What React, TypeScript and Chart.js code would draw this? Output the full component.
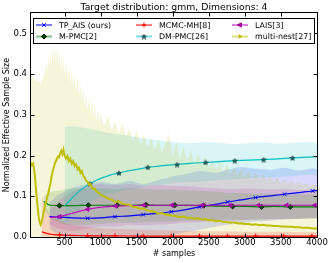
import React, { useEffect, useRef } from "react";
import { Chart, registerables } from "chart.js";
import { drawPoint } from "chart.js/helpers";

Chart.register(...registerables);

// ---------- text ----------
const chartTitle = "Target distribution: gmm, Dimensions: 4";
const xLabel = "# samples";
const yLabel = "Normalized Effective Sample Size";

// ---------- axes ----------
const xTicks = [500, 1000, 1500, 2000, 2500, 3000, 3500, 4000];
const yTicks = [0, 0.1, 0.2, 0.3, 0.4, 0.5];
const xMin = 35;
const xMax = 4000;
const yMin = 0;
const yMax = 0.55;

// ---------- TP_AIS (ours) ----------
const tpMean = [[290,0.050],[430,0.049],[600,0.047],[820,0.046],[1000,0.047],[1200,0.050],[1400,0.052],[1590,0.055],[1800,0.058],[1980,0.062],[2200,0.068],[2370,0.074],[2600,0.080],[2760,0.086],[2950,0.091],[3150,0.097],[3350,0.101],[3550,0.105],[3750,0.109],[3940,0.113],[4000,0.114]];
const tpLow = [[290,0.020],[430,0.005],[600,0.0],[820,0.0],[1000,0.0],[1200,0.0],[1400,0.0],[1590,0.0],[1800,0.0],[1980,0.005],[2200,0.012],[2370,0.018],[2600,0.025],[2760,0.030],[2950,0.034],[3150,0.038],[3350,0.040],[3550,0.043],[3750,0.045],[3940,0.047],[4000,0.048]];
const tpHigh = [[290,0.085],[430,0.105],[600,0.120],[820,0.130],[1000,0.135],[1200,0.130],[1400,0.138],[1590,0.130],[1800,0.140],[1980,0.148],[2200,0.155],[2370,0.162],[2600,0.158],[2760,0.165],[2950,0.172],[3150,0.168],[3350,0.165],[3550,0.170],[3750,0.163],[3940,0.168],[4000,0.166]];
const tpMarks = [430, 820, 1200, 1590, 1980, 2370, 2760, 3150, 3550, 3940];

// ---------- MCMC-MH[8] ----------
const mhMean = [[185,0.013],[230,0.010],[300,0.007],[430,0.005],[600,0.004],[820,0.003],[1000,0.003],[1200,0.003],[1590,0.002],[1980,0.002],[2370,0.002],[2760,0.002],[3150,0.002],[3540,0.002],[3930,0.002],[4000,0.002]];
const mhHigh = [[185,0.100],[230,0.080],[300,0.055],[430,0.040],[600,0.030],[820,0.025],[1000,0.022],[1200,0.020],[1590,0.018],[1980,0.016],[2370,0.015],[2760,0.014],[3150,0.013],[3540,0.013],[3930,0.012],[4000,0.012]];
const mhMarks = [430, 820, 1200, 1590, 1980, 2370, 2760, 3150, 3540, 3930];

// ---------- LAIS[3] ----------
const laisMean = [[300,0.048],[430,0.050],[600,0.058],[820,0.068],[1000,0.073],[1210,0.076],[1400,0.077],[1600,0.078],[1800,0.078],[1990,0.078],[2200,0.078],[2410,0.078],[2600,0.078],[2800,0.078],[3000,0.078],[3190,0.078],[3400,0.078],[3580,0.078],[3800,0.078],[3970,0.078],[4000,0.078]];
const laisLow = [[300,0.030],[430,0.020],[600,0.015],[820,0.020],[1000,0.025],[1210,0.025],[1400,0.030],[1600,0.028],[1800,0.030],[1990,0.032],[2200,0.035],[2410,0.037],[2600,0.040],[2800,0.040],[3000,0.042],[3190,0.043],[3400,0.044],[3580,0.045],[3800,0.045],[3970,0.046],[4000,0.046]];
const laisHigh = [[300,0.070],[430,0.090],[600,0.110],[820,0.125],[1000,0.130],[1210,0.128],[1400,0.130],[1600,0.125],[1800,0.128],[1990,0.125],[2200,0.125],[2410,0.122],[2600,0.120],[2800,0.118],[3000,0.120],[3190,0.118],[3400,0.117],[3580,0.118],[3800,0.116],[3970,0.117],[4000,0.117]];
const laisMarks = [430, 820, 1210, 1600, 1990, 2410, 2800, 3190, 3580, 3970];

// ---------- M-PMC[2] ----------
const mpmcMean = [[210,0.087],[300,0.078],[430,0.077],[600,0.077],[830,0.078],[1000,0.078],[1230,0.078],[1400,0.078],[1630,0.079],[1800,0.078],[2030,0.078],[2200,0.078],[2430,0.077],[2600,0.076],[2830,0.075],[3000,0.075],[3230,0.074],[3400,0.075],[3630,0.074],[3800,0.074],[4000,0.074]];
const mpmcLow = [[210,0.070],[300,0.050],[430,0.035],[600,0.030],[830,0.030],[1000,0.032],[1230,0.035],[1400,0.035],[1630,0.036],[1800,0.037],[2030,0.038],[2200,0.040],[2430,0.040],[2600,0.041],[2830,0.042],[3000,0.042],[3230,0.043],[3400,0.044],[3630,0.044],[3800,0.045],[4000,0.045]];
const mpmcHigh = [[210,0.100],[300,0.110],[430,0.115],[600,0.120],[830,0.120],[1000,0.120],[1230,0.118],[1400,0.120],[1630,0.118],[1800,0.117],[2030,0.116],[2200,0.115],[2430,0.113],[2600,0.111],[2830,0.108],[3000,0.108],[3230,0.106],[3400,0.106],[3630,0.105],[3800,0.105],[4000,0.104]];
const mpmcMarks = [430, 830, 1230, 1630, 2030, 2430, 2830, 3230, 3630];

// ---------- DM-PMC[26] ----------
const dmMean = [[500,0.077],[550,0.085],[600,0.095],[700,0.112],[760,0.120],[855,0.131],[950,0.140],[1050,0.147],[1150,0.153],[1255,0.157],[1400,0.163],[1500,0.166],[1655,0.171],[1800,0.174],[1900,0.176],[2060,0.178],[2250,0.181],[2455,0.183],[2650,0.185],[2860,0.1875],[3050,0.189],[3260,0.190],[3450,0.192],[3660,0.194],[3850,0.196],[4000,0.197]];
const dmLow = [[500,0.030],[550,0.040],[600,0.050],[700,0.065],[760,0.075],[855,0.085],[950,0.095],[1050,0.100],[1150,0.108],[1255,0.112],[1400,0.118],[1500,0.120],[1655,0.125],[1800,0.128],[1900,0.130],[2060,0.133],[2250,0.135],[2455,0.137],[2650,0.140],[2860,0.142],[3050,0.144],[3260,0.146],[3450,0.148],[3660,0.150],[3850,0.152],[4000,0.153]];
const dmHigh = [[500,0.270],[550,0.272],[600,0.272],[700,0.270],[760,0.268],[855,0.265],[950,0.262],[1050,0.258],[1150,0.255],[1255,0.252],[1400,0.248],[1500,0.245],[1655,0.240],[1800,0.238],[1900,0.235],[2060,0.232],[2250,0.230],[2455,0.233],[2650,0.231],[2860,0.228],[3050,0.230],[3260,0.232],[3450,0.229],[3660,0.231],[3850,0.233],[4000,0.232]];
const dmMarks = [855, 1255, 1655, 2060, 2455, 2860, 3260, 3660];

// ---------- multi-nest[27] ----------
const mnMean = [[35,0.182],[50,0.176],[65,0.180],[80,0.165],[95,0.138],[110,0.105],[125,0.078],[140,0.052],[155,0.036],[170,0.030],[185,0.038],[200,0.052],[215,0.065],[230,0.078],[245,0.086],[260,0.098],[275,0.108],[290,0.120],[305,0.132],[320,0.148],[335,0.160],[350,0.170],[365,0.180],[380,0.186],[395,0.192],[410,0.198],[425,0.196],[440,0.206],[455,0.212],[470,0.204],[485,0.214],[500,0.200],[520,0.193],[540,0.199],[560,0.186],[580,0.192],[600,0.180],[620,0.186],[640,0.174],[660,0.178],[680,0.166],[700,0.170],[720,0.158],[740,0.162],[760,0.150],[780,0.146],[800,0.138],[820,0.136],[840,0.128],[860,0.130],[880,0.121],[900,0.118],[920,0.120],[940,0.112],[960,0.110],[980,0.108],[1000,0.104],[1050,0.100],[1100,0.094],[1150,0.092],[1200,0.086],[1250,0.088],[1300,0.082],[1350,0.080],[1400,0.079],[1450,0.074],[1500,0.073],[1550,0.069],[1600,0.070],[1650,0.065],[1700,0.064],[1750,0.062],[1800,0.058],[1850,0.059],[1900,0.055],[1950,0.054],[2000,0.052],[2050,0.051],[2100,0.049],[2150,0.050],[2200,0.047],[2250,0.047],[2300,0.045],[2350,0.046],[2400,0.043],[2450,0.044],[2500,0.041],[2550,0.041],[2600,0.039],[2650,0.040],[2700,0.037],[2750,0.037],[2800,0.035],[2850,0.036],[2900,0.033],[2950,0.034],[3000,0.032],[3050,0.032],[3100,0.030],[3150,0.031],[3200,0.029],[3250,0.030],[3300,0.028],[3350,0.028],[3400,0.027],[3450,0.027],[3500,0.026],[3550,0.026],[3600,0.025],[3650,0.025],[3700,0.024],[3750,0.024],[3800,0.023],[3850,0.023],[3900,0.022],[3950,0.021],[4000,0.021]];
const mnHigh = [[35,0.400],[50,0.392],[65,0.398],[80,0.385],[95,0.392],[110,0.380],[125,0.388],[140,0.376],[155,0.385],[170,0.372],[185,0.390],[200,0.380],[215,0.410],[230,0.395],[245,0.432],[260,0.405],[275,0.445],[290,0.415],[305,0.455],[320,0.420],[335,0.462],[350,0.430],[365,0.475],[380,0.428],[395,0.468],[410,0.420],[425,0.458],[440,0.410],[455,0.450],[470,0.400],[485,0.445],[500,0.395],[520,0.432],[540,0.385],[560,0.420],[580,0.375],[600,0.410],[620,0.365],[640,0.400],[660,0.355],[680,0.390],[700,0.345],[720,0.378],[740,0.335],[760,0.365],[780,0.322],[800,0.355],[820,0.312],[840,0.345],[860,0.305],[880,0.335],[900,0.295],[920,0.325],[940,0.288],[960,0.315],[980,0.280],[1000,0.305],[1050,0.272],[1100,0.298],[1150,0.262],[1200,0.285],[1250,0.252],[1300,0.278],[1350,0.245],[1400,0.268],[1450,0.235],[1500,0.262],[1550,0.228],[1600,0.252],[1650,0.220],[1700,0.245],[1750,0.212],[1800,0.238],[1850,0.205],[1900,0.232],[1950,0.255],[2000,0.198],[2050,0.235],[2100,0.192],[2150,0.222],[2200,0.186],[2250,0.212],[2300,0.180],[2350,0.205],[2400,0.175],[2450,0.198],[2500,0.170],[2550,0.190],[2600,0.165],[2650,0.184],[2700,0.160],[2750,0.178],[2800,0.155],[2850,0.172],[2900,0.152],[2950,0.166],[3000,0.148],[3050,0.162],[3100,0.145],[3150,0.158],[3200,0.142],[3250,0.154],[3300,0.139],[3350,0.150],[3400,0.136],[3450,0.146],[3500,0.133],[3550,0.142],[3600,0.131],[3650,0.139],[3700,0.129],[3750,0.136],[3800,0.127],[3850,0.133],[3900,0.125],[3950,0.130],[4000,0.124]];

// ---------- styling ----------
const FONT = '"DejaVu Sans", "Liberation Sans", sans-serif';
const C = {
  blue: "#0000ff",
  red: "#ff0000",
  magenta: "#bf00bf",
  green: "#008000",
  cyan: "#00bfbf",
  yellow: "#bfbf00",
};
const rgba = (hex: string, a: number) => {
  const n = parseInt(hex.slice(1), 16);
  return `rgba(${(n >> 16) & 255},${(n >> 8) & 255},${n & 255},${a})`;
};
const BAND_ALPHA = 0.15;

function makeStar(size: number, fill: string, stroke: string) {
  const c = document.createElement("canvas");
  c.width = size;
  c.height = size;
  const g = c.getContext("2d")!;
  const cx = size / 2, cy = size / 2 + 0.3, R = size / 2 - 0.5, r = R * 0.45;
  g.beginPath();
  for (let i = 0; i < 10; i++) {
    const a = -Math.PI / 2 + (i * Math.PI) / 5;
    const rad = i % 2 === 0 ? R : r;
    const px = cx + rad * Math.cos(a), py = cy + rad * Math.sin(a);
    if (i === 0) g.moveTo(px, py); else g.lineTo(px, py);
  }
  g.closePath();
  g.fillStyle = fill;
  g.fill();
  g.strokeStyle = stroke;
  g.lineWidth = 0.6;
  g.stroke();
  return c;
}

const toXY = (arr: number[][]) => arr.map(([x, y]) => ({ x, y }));

export default function App() {
  const ref = useRef<HTMLCanvasElement | null>(null);

  useEffect(() => {
    document.body.style.margin = "0";
    const canvas = ref.current;
    if (!canvas) return;

    const star = makeStar(6, "#136f6f", "#0a2a2a");

    const markerR = (marks: number[], r: number) => (ctx: any) =>
      ctx.raw && marks.includes(ctx.raw.x) ? r : 0;

    const band = (low: number[][] | null, high: number[][], color: string, order: number, smooth: boolean) => {
      const ds: any[] = [];
      const interp = smooth ? { cubicInterpolationMode: "monotone" } : { tension: 0 };
      if (low) {
        ds.push({
          data: toXY(low), borderWidth: 0, pointRadius: 0, fill: false, order,
          borderColor: "transparent", ...interp,
        });
        ds.push({
          data: toXY(high), borderWidth: 0, pointRadius: 0, order,
          fill: "-1", backgroundColor: rgba(color, BAND_ALPHA), borderColor: "transparent",
          ...interp,
        });
      } else {
        ds.push({
          data: toXY(high), borderWidth: 0, pointRadius: 0, order,
          fill: "origin", backgroundColor: rgba(color, BAND_ALPHA), borderColor: "transparent",
          ...interp,
        });
      }
      return ds;
    };

    const datasets: any[] = [
      ...band(tpLow, tpHigh, C.blue, 20, true),
      ...band(null, mhHigh, C.red, 19, true),
      ...band(laisLow, laisHigh, C.magenta, 18, true),
      ...band(mpmcLow, mpmcHigh, C.green, 17, true),
      ...band(dmLow, dmHigh, C.cyan, 16, true),
      ...band(null, mnHigh, C.yellow, 15, false),
      {
        data: toXY(tpMean), borderColor: C.blue, borderWidth: 1.2, fill: false, order: 6,
        cubicInterpolationMode: "monotone", pointStyle: "crossRot",
        pointRadius: markerR(tpMarks, 2.6), pointBorderColor: C.blue, pointBorderWidth: 1,
      },
      {
        data: toXY(mpmcMean), borderColor: C.green, borderWidth: 1.2, fill: false, order: 5,
        cubicInterpolationMode: "monotone", pointStyle: "rectRot",
        pointRadius: markerR(mpmcMarks, 2.6), pointBackgroundColor: "#005000",
        pointBorderColor: "#000000", pointBorderWidth: 0.7,
      },
      {
        data: toXY(mhMean), borderColor: C.red, borderWidth: 1.2, fill: false, order: 4,
        cubicInterpolationMode: "monotone", pointStyle: "cross",
        pointRadius: markerR(mhMarks, 2.6), pointBorderColor: C.red, pointBorderWidth: 1,
      },
      {
        data: toXY(dmMean), borderColor: C.cyan, borderWidth: 1.2, fill: false, order: 3,
        cubicInterpolationMode: "monotone", pointStyle: star,
        pointRadius: markerR(dmMarks, 3),
      },
      {
        data: toXY(laisMean), borderColor: C.magenta, borderWidth: 1.2, fill: false, order: 2,
        cubicInterpolationMode: "monotone", pointStyle: "triangle", pointRotation: -90,
        pointRadius: markerR(laisMarks, 2.6), pointBackgroundColor: C.magenta,
        pointBorderColor: "#8f008f", pointBorderWidth: 0.6,
      },
      {
        data: toXY(mnMean), borderColor: C.yellow, borderWidth: 2, fill: false, order: 1,
        tension: 0, pointRadius: 0,
      },
    ];

    const legendItems = [
      { label: "TP_AIS (ours)", color: C.blue, style: "crossRot", r: 2.5, fill: C.blue, stroke: C.blue, rot: 0 },
      { label: "MCMC-MH[8]", color: C.red, style: "cross", r: 2.5, fill: C.red, stroke: C.red, rot: 0 },
      { label: "LAIS[3]", color: C.magenta, style: "triangle", r: 2.5, fill: C.magenta, stroke: "#8f008f", rot: -90 },
      { label: "M-PMC[2]", color: C.green, style: "rectRot", r: 2.5, fill: "#005000", stroke: "#000000", rot: 0 },
      { label: "DM-PMC[26]", color: C.cyan, style: "star", r: 3, fill: "", stroke: "", rot: 0 },
      { label: "multi-nest[27]", color: C.yellow, style: "triangle", r: 2, fill: C.yellow, stroke: C.yellow, rot: 90 },
    ];

    const framePlugin = {
      id: "frameTicks",
      afterDatasetsDraw(chart: any) {
        const { ctx, chartArea: a, scales } = chart;
        ctx.save();
        ctx.strokeStyle = "#000";
        ctx.lineWidth = 1;
        const L = Math.round(a.left) - 0.5, R = Math.round(a.right) + 0.5;
        const T = Math.round(a.top) - 0.5, B = Math.round(a.bottom) + 0.5;
        ctx.beginPath();
        for (const v of xTicks) {
          const px = Math.round(scales.x.getPixelForValue(v)) + 0.5;
          ctx.moveTo(px, B); ctx.lineTo(px, B - 4);
          ctx.moveTo(px, T); ctx.lineTo(px, T + 4);
        }
        for (const v of yTicks) {
          const py = Math.round(scales.y.getPixelForValue(v)) + 0.5;
          ctx.moveTo(L, py); ctx.lineTo(L + 4, py);
          ctx.moveTo(R, py); ctx.lineTo(R - 4, py);
        }
        ctx.stroke();
        ctx.strokeRect(L, T, R - L, B - T);
        ctx.restore();
      },
      afterDraw(chart: any) {
        const { ctx, chartArea: a } = chart;
        ctx.save();
        // title
        ctx.fillStyle = "#000";
        ctx.font = `9.3px ${FONT}`;
        ctx.textAlign = "center";
        ctx.textBaseline = "middle";
        ctx.fillText(chartTitle, (a.left + a.right) / 2, 7.5);
        // legend
        const bx = a.left + 2.5, by = a.top + 5.5, bw = 281, bh = 25;
        ctx.fillStyle = "#ffffff";
        ctx.fillRect(bx, by, bw, bh);
        ctx.strokeStyle = "#000";
        ctx.lineWidth = 1;
        ctx.strokeRect(bx, by, bw, bh);
        const colX = [a.left + 5, a.left + 105, a.left + 201];
        const rowY = [a.top + 12, a.top + 23.5];
        ctx.font = `7.9px ${FONT}`;
        ctx.textAlign = "left";
        legendItems.forEach((it, i) => {
          const x0 = colX[i % 3], y0 = rowY[Math.floor(i / 3)];
          ctx.strokeStyle = rgba(it.color, 0.5);
          ctx.lineWidth = 2;
          ctx.beginPath();
          ctx.moveTo(x0, y0); ctx.lineTo(x0 + 16, y0);
          ctx.stroke();
          ctx.fillStyle = it.fill || "#000";
          ctx.strokeStyle = it.stroke || "#000";
          ctx.lineWidth = 1;
          drawPoint(ctx, {
            pointStyle: it.style === "star" ? star : it.style,
            radius: it.r, rotation: it.rot, borderWidth: 1,
          } as any, x0 + 8, y0);
          ctx.fillStyle = "#000";
          ctx.fillText(it.label, x0 + 23, y0 + 0.5);
        });
        ctx.restore();
      },
    };

    const chart = new Chart(canvas, {
      type: "line",
      data: { datasets },
      options: {
        animation: false,
        responsive: false,
        events: [],
        layout: { padding: { top: 13, right: 15, left: 0, bottom: 0 } },
        plugins: { legend: { display: false }, tooltip: { enabled: false }, title: { display: false } },
        elements: { point: { hitRadius: 0 } },
        scales: {
          x: {
            type: "linear",
            min: xMin,
            max: xMax,
            grid: { display: false, drawTicks: false },
            border: { display: false },
            afterBuildTicks: (s: any) => { s.ticks = xTicks.map((v) => ({ value: v })); },
            afterFit: (s: any) => { s.height = 26; },
            ticks: {
              color: "#000", padding: 1, maxRotation: 0, autoSkip: false,
              font: { family: FONT, size: 8.5 },
              callback: (v: any) => String(v),
            },
            title: {
              display: true, text: xLabel, color: "#000",
              font: { family: FONT, size: 8 }, padding: { top: 0, bottom: 4 },
            },
          },
          y: {
            type: "linear",
            min: yMin,
            max: yMax,
            grid: { display: false, drawTicks: false },
            border: { display: false },
            afterBuildTicks: (s: any) => { s.ticks = yTicks.map((v) => ({ value: v })); },
            afterFit: (s: any) => { s.width = 31; },
            ticks: {
              color: "#000", padding: 4, autoSkip: false,
              font: { family: FONT, size: 8.5 },
              callback: (v: any) => Number(v).toFixed(1),
            },
            title: {
              display: true, text: yLabel, color: "#000",
              font: { family: FONT, size: 8 }, padding: { top: 2, bottom: 0 },
            },
          },
        },
      } as any,
      plugins: [framePlugin],
    });

    return () => chart.destroy();
  }, []);

  return (
    <div style={{ width: 332, height: 263 }}>
      <canvas ref={ref} width={332} height={263} style={{ display: "block" }} />
    </div>
  );
}
